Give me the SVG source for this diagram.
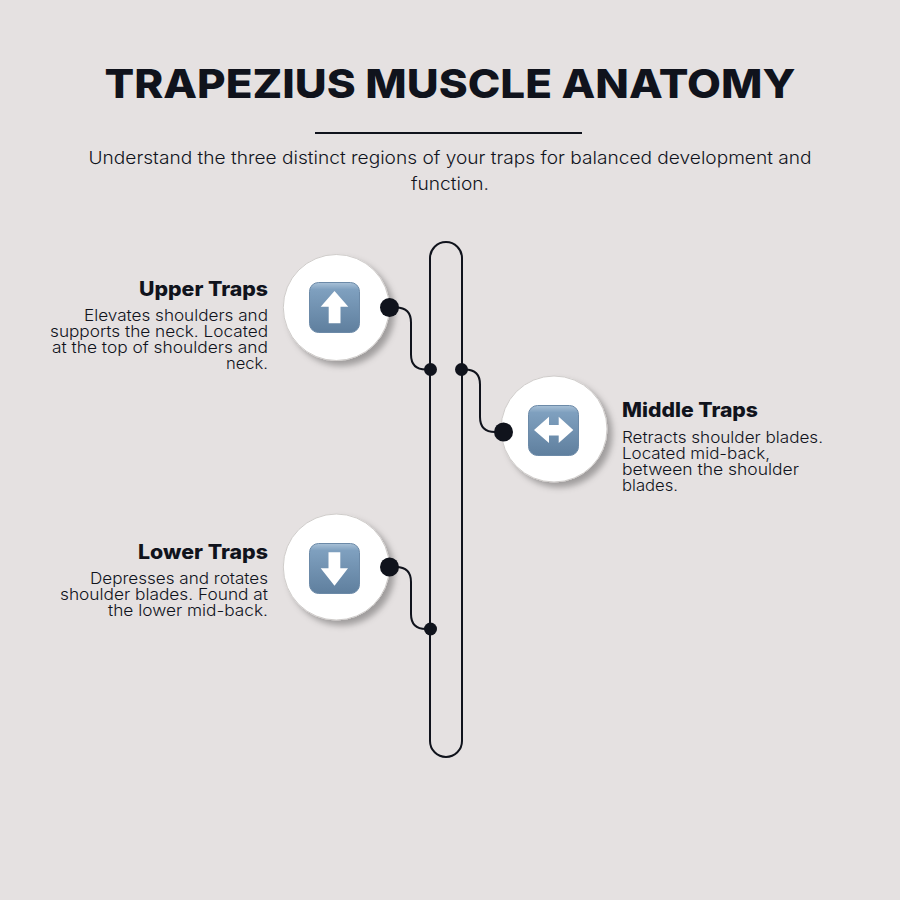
<svg xmlns="http://www.w3.org/2000/svg" width="900" height="900" viewBox="0 0 900 900">
<style>
text{font-family:Inter,"Noto Sans","Liberation Sans",sans-serif;fill:#10131c}
.t{font-size:40px;font-weight:800;text-anchor:middle}
.s{font-size:17.6px;font-weight:300;text-anchor:middle}
.h{font-size:20px;font-weight:800}
.b{font-size:15.4px;font-weight:300}
.e{text-anchor:end}
.c{fill:#fff;stroke:#cfccca;stroke-width:1;filter:url(#sh)}
.k{fill:none;stroke:#10131c;stroke-width:2}
.d{fill:#10131c}
.ic{fill:url(#g);stroke:#6c8aa8;stroke-width:1}
.ar{fill:#fff}
</style>
<defs>
<filter id="sh" x="-20%" y="-20%" width="150%" height="150%"><feDropShadow dx="5" dy="5" stdDeviation="3" flood-color="#000" flood-opacity="0.3"/></filter>
<linearGradient id="g" x1="0" y1="0" x2="0" y2="1"><stop offset="0" stop-color="#a9c1d7"/><stop offset="0.14" stop-color="#7fa0bf"/><stop offset="1" stop-color="#5f7f9e"/></linearGradient>
</defs>
<rect width="900" height="900" fill="#e5e1e1"/>
<text class="t" x="450" y="98" textLength="691" lengthAdjust="spacingAndGlyphs">TRAPEZIUS MUSCLE ANATOMY</text>
<rect x="315" y="132" width="267" height="2" fill="#10131c"/>
<text class="s"><tspan x="450" y="164" textLength="723" lengthAdjust="spacingAndGlyphs">Understand the three distinct regions of your traps for balanced development and</tspan><tspan x="450" y="190" textLength="78" lengthAdjust="spacingAndGlyphs">function.</tspan></text>
<g id="connectors">
<rect class="k" x="430" y="242" width="32" height="515" rx="16" ry="16"/>
<path class="k" d="M389.500 307.500H396Q411 307.500 411 322.500V354.500Q411 369.500 426 369.500H430.500"/>
<path class="k" d="M461.500 369.500H465Q480 369.500 480 384.500V417Q480 432 495 432H503.500"/>
<path class="k" d="M389.500 567H396Q411 567 411 582V614Q411 629 426 629H430.500"/>
</g>
<g id="upper-traps">
<circle class="c" cx="336.300" cy="307.500" r="53"/>
<circle class="d" cx="389.500" cy="307.500" r="9.500"/>
<circle class="d" cx="430.500" cy="369.500" r="6.500"/>
<rect class="ic" x="309.500" y="282.500" width="50" height="50" rx="9"/>
<path class="ar" d="M334.500 291L348.300 306.700H340.500V323.300H328.700V306.700H320.700Z"/>
<text class="h e" x="268" y="296" textLength="129" lengthAdjust="spacingAndGlyphs">Upper Traps</text>
<text class="b e"><tspan x="268" y="321" textLength="184" lengthAdjust="spacingAndGlyphs">Elevates shoulders and</tspan><tspan x="268" y="337" textLength="218" lengthAdjust="spacingAndGlyphs">supports the neck. Located</tspan><tspan x="268" y="353" textLength="216" lengthAdjust="spacingAndGlyphs">at the top of shoulders and</tspan><tspan x="268" y="369" textLength="42" lengthAdjust="spacingAndGlyphs">neck.</tspan></text>
</g>
<g id="middle-traps">
<circle class="c" cx="554" cy="429" r="53"/>
<circle class="d" cx="503.500" cy="432" r="9.500"/>
<circle class="d" cx="461.500" cy="369.500" r="6.500"/>
<rect class="ic" x="528.500" y="405.500" width="50" height="50" rx="9"/>
<path class="ar" d="M534 430L549 416.700V425H558.700V416.700L573.300 430L558.700 443V435.500H549V443Z"/>
<text class="h" x="622" y="417" textLength="136" lengthAdjust="spacingAndGlyphs">Middle Traps</text>
<text class="b"><tspan x="622" y="443" textLength="201" lengthAdjust="spacingAndGlyphs">Retracts shoulder blades.</tspan><tspan x="622" y="459" textLength="148" lengthAdjust="spacingAndGlyphs">Located mid-back,</tspan><tspan x="622" y="475" textLength="177" lengthAdjust="spacingAndGlyphs">between the shoulder</tspan><tspan x="622" y="491" textLength="56" lengthAdjust="spacingAndGlyphs">blades.</tspan></text>
</g>
<g id="lower-traps">
<circle class="c" cx="336.300" cy="567" r="53"/>
<circle class="d" cx="389.500" cy="567" r="9.500"/>
<circle class="d" cx="430.500" cy="629" r="6.500"/>
<rect class="ic" x="309.500" y="543.500" width="50" height="50" rx="9"/>
<path class="ar" d="M328.500 552.300H340.300V568.300H348L334.500 585.700L320.700 568.300H328.500Z"/>
<text class="h e" x="268" y="559" textLength="130" lengthAdjust="spacingAndGlyphs">Lower Traps</text>
<text class="b e"><tspan x="268" y="584" textLength="178" lengthAdjust="spacingAndGlyphs">Depresses and rotates</tspan><tspan x="268" y="600" textLength="208" lengthAdjust="spacingAndGlyphs">shoulder blades. Found at</tspan><tspan x="268" y="616" textLength="160" lengthAdjust="spacingAndGlyphs">the lower mid-back.</tspan></text>
</g>
</svg>
